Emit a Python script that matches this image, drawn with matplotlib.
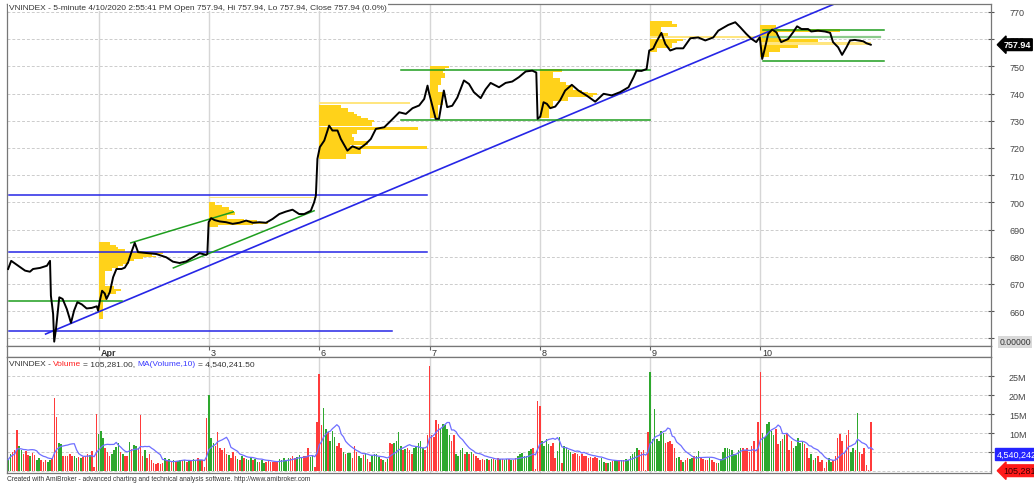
import matplotlib
matplotlib.use('Agg')
import matplotlib.pyplot as plt
import numpy as np
import pandas as pd

plt.rcParams['font.family'] = ['Liberation Sans', 'DejaVu Sans']

# ---------------- data ----------------
day_labels = ['Apr', '3', '6', '7', '8', '9', '10']

# volume per 5-minute bar (millions), one list per session (Mar 31 partial ... Apr 10)
vol_mar31 = [3.0, 4.5, 5.0, 5.5, 10.9, 6.5, 5.5, 4.5, 5.4, 4.3,
             4.0, 4.8, 4.2, 3.0, 3.5, 2.8, 2.5, 3.0, 2.5, 2.9,
             3.5, 19.2, 14.1, 7.5, 7.0, 3.9, 3.9, 4.0, 4.5, 4.0,
             3.9, 3.5, 3.8, 3.5, 3.8, 4.0, 4.5, 4.3, 5.4, 1.0,
             15.0]
dir_mar31 = 'ggrrrggrrr' 'grrggrrrgg' 'rrrggrrrrr' 'ggrgrrrgrr' 'r'
vol_apr1 = [9.7, 10.5, 8.8, 6.2, 5.0, 4.0, 4.5, 5.5, 6.3, 7.5,
            5.0, 4.5, 4.0, 3.9, 7.7, 5.8, 6.8, 6.5, 6.0, 14.7,
            4.0, 5.5, 3.5, 4.5, 3.0, 2.2, 1.8, 2.0, 1.8, 2.2,
            3.5, 2.8, 3.3, 2.5, 3.0, 2.5, 2.7, 3.0, 2.8, 3.0,
            2.5, 2.9, 2.6, 3.2, 3.0, 3.5, 3.0, 2.8, 1.0, 14.0]
dir_apr1 = 'gggrrrgggg' 'rgrrgrggrr' 'rgrrrrrrrr' 'grgrgrggrg' 'rgrggrgrrr'
vol_apr3 = [20.1, 8.6, 7.5, 6.5, 10.2, 6.0, 5.5, 6.0, 4.5, 4.2,
            3.5, 5.0, 4.0, 3.2, 3.0, 4.0, 3.5, 3.2, 3.0, 3.8,
            3.0, 3.2, 2.5, 2.5, 2.8, 2.2, 2.5, 2.6, 2.4, 2.5,
            2.3, 2.5, 3.3, 3.0, 3.4, 3.0, 3.5, 3.5, 4.0, 3.5,
            3.8, 4.2, 3.6, 3.9, 4.0, 6.0, 3.8, 4.0, 1.0, 12.8]
dir_apr3 = 'gggrrrrrrg' 'rrrgrgrggg' 'rggrggrrrr' 'rrgggggrrr' 'gggrrrggrr'
vol_apr6 = [25.5, 12.0, 16.5, 11.0, 10.2, 8.0, 10.5, 9.0, 6.5, 7.5,
            6.0, 5.0, 4.5, 4.8, 4.8, 3.5, 6.5, 5.0, 4.0, 3.5,
            4.3, 4.8, 3.2, 2.5, 4.0, 4.5, 4.5, 3.8, 3.2, 3.0,
            2.5, 3.2, 7.5, 7.0, 7.5, 8.0, 10.2, 6.5, 5.5, 5.8,
            6.0, 5.5, 4.5, 6.0, 6.5, 7.5, 7.8, 6.0, 5.5, 9.5]
dir_apr6 = 'rrggrgggrr' 'rgrggrrrgg' 'rgrrggggrg' 'rgrrggggrg' 'rrrgggggrr'
vol_apr7 = [27.6, 9.5, 9.0, 13.4, 12.4, 11.0, 12.4, 12.0, 11.0, 9.5,
            8.0, 9.5, 4.5, 4.0, 5.5, 6.0, 4.5, 5.0, 4.5, 5.0,
            4.5, 4.0, 3.5, 3.0, 3.2, 2.8, 3.2, 3.0, 3.3, 3.2,
            3.0, 3.5, 3.2, 3.2, 3.0, 3.3, 3.2, 3.0, 3.0, 3.5,
            4.0, 4.4, 4.8, 4.0, 4.0, 5.4, 5.8, 6.2, 0.5, 18.3]
dir_apr7 = 'rrrrrggggg' 'rrggggrgrg' 'rrrrrrgrgr' 'grgrggrgrr' 'gggggggrrr'
vol_apr8 = [17.0, 8.0, 6.7, 8.4, 7.0, 6.5, 7.5, 3.5, 5.2, 8.9,
            2.0, 6.5, 6.0, 5.5, 5.0, 4.5, 4.8, 4.5, 4.0, 4.5,
            4.0, 4.0, 3.5, 3.8, 3.5, 3.6, 3.5, 3.0, 3.5, 2.5,
            2.0, 2.0, 2.5, 2.7, 3.0, 3.0, 3.0, 3.0, 3.0, 3.2,
            3.0, 4.0, 4.5, 5.0, 6.0, 5.5, 5.0, 5.5, 0.3, 10.3]
dir_apr8 = 'rggggrrrgg' 'rggggrrrrr' 'rrrrrrrggg' 'rggrggrgrg' 'gggggrrrrr'
vol_apr9 = [26.1, 8.4, 16.3, 8.5, 8.0, 10.6, 10.0, 7.4, 7.7, 7.8,
            7.2, 6.0, 3.5, 3.8, 3.0, 2.5, 3.0, 3.5, 3.2, 3.5,
            4.0, 4.0, 5.4, 3.5, 3.3, 3.0, 3.0, 3.5, 3.0, 2.5,
            2.0, 2.0, 3.3, 5.0, 6.1, 6.0, 5.8, 5.5, 4.5, 4.3,
            5.5, 6.0, 6.0, 5.5, 6.0, 5.0, 6.5, 7.8, 0.4, 12.8]
dir_apr9 = 'gggggggrrr' 'rrggrgrrgg' 'rggrrrrgrr' 'rggggggggg' 'ggrrrrrrrr'
vol_apr10 = [26.0, 10.0, 9.0, 12.4, 13.0, 10.5, 9.5, 11.0, 7.0, 8.0,
             8.5, 9.5, 10.0, 5.5, 8.0, 6.0, 6.5, 8.8, 7.5, 8.0,
             7.0, 6.0, 3.5, 4.5, 3.0, 3.5, 4.0, 2.5, 3.0, 0.8,
             2.5, 3.5, 2.5, 2.8, 4.0, 8.6, 9.7, 8.0, 5.0, 9.5,
             10.9, 5.0, 6.0, 5.5, 15.3, 5.0, 4.5, 6.0, 1.5, 0.3,
             12.8, 0.1]
dir_apr10 = 'rggggggrrg' 'rgrrrggggg' 'rrrgrgrrrr' 'rggrrrrrrr' 'rggrgrrrrr' 'rr'

vol_days = [vol_mar31, vol_apr1, vol_apr3, vol_apr6, vol_apr7, vol_apr8, vol_apr9, vol_apr10]
dir_days = [dir_mar31, dir_apr1, dir_apr3, dir_apr6, dir_apr7, dir_apr8, dir_apr9, dir_apr10]

# close price path (bar index, price)
price_bar = [0.0, 1.4, 5.4, 7.7, 9.9, 11.3, 14.5, 17.6, 19.0, 19.4, 20.4, 20.9, 21.7, 23.2, 24.7,
             26.6, 28.5, 29.9, 31.4, 33.4, 35.6, 37.9, 40.2, 40.8,
             41.6, 42.6, 43.8, 44.6, 46.1, 47.6, 49.1, 51.4, 52.9, 54.4, 55.9, 57.4, 58.9, 61.2,
             67.2, 71.7, 74.7, 77.7, 80.8, 83.8, 86.8, 89.8, 90.3,
             90.9, 92.0, 93.5, 95.8, 98.8, 101.8, 104.8, 107.9, 110.9, 113.9, 116.9, 119.9, 122.9,
             125.9, 128.9, 131.9, 134.2, 137.2, 138.7, 139.5,
             140.2, 141.3, 143.3, 145.5, 147.0, 149.3, 150.8, 153.8, 156.1, 159.1, 162.2, 164.4,
             166.7, 170.5, 173.5, 177.3, 180.3, 183.3, 186.3, 188.6, 190.1,
             190.7, 193.8, 195.3, 197.5, 199.0, 201.3, 203.6, 206.6, 208.9, 211.1, 214.2, 216.4,
             218.7, 222.5, 225.5, 228.5, 231.5, 234.6, 237.6, 239.4,
             240.0, 241.2, 242.7, 244.2, 245.7, 248.0, 250.2, 252.5, 255.5, 258.5, 262.3, 266.1,
             269.9, 273.6, 277.4, 281.2, 283.5, 284.8, 287.1, 289.4,
             290.6, 292.4, 293.8, 296.1, 297.9, 300.1, 302.8, 306.0, 309.2, 312.8, 316.0, 319.6,
             321.9, 326.4, 329.6, 331.9, 334.6, 336.9, 339.1,
             340.7, 341.8, 343.0, 344.5, 346.3, 348.2, 350.4, 353.5, 355.8, 357.6, 359.6, 362.6,
             364.0, 367.1, 370.2, 372.6, 373.9, 376.2, 378.0, 380.0, 381.6, 383.8, 387.6, 389.0, 391.0]
price_close = [675.5, 678.5, 676.2, 674.9, 674.5, 675.5, 675.9, 676.7, 678.5, 665.7, 659.0, 648.8, 653.5, 665.1, 664.5,
               660.8, 655.7, 660.2, 663.3, 662.5, 661.0, 661.2, 661.8, 660.2,
               663.9, 667.5, 666.5, 664.5, 667.0, 672.5, 675.5, 675.5, 676.0, 678.0, 681.7, 685.1, 681.7, 681.5,
               681.0, 679.8, 678.2, 677.7, 678.3, 679.8, 681.3, 680.7, 681.0,
               692.7, 694.2, 693.5, 693.0, 692.7, 692.1, 692.5, 693.3, 692.5, 692.7, 692.5, 693.9, 695.7,
               696.6, 697.3, 695.7, 695.7, 696.9, 700.0, 702.5,
               716.0, 720.3, 722.7, 728.2, 726.4, 726.4, 723.3, 719.0, 720.6, 719.6, 721.5, 723.3,
               727.0, 727.6, 730.0, 733.1, 732.5, 734.6, 735.6, 738.0, 742.9,
               740.5, 730.7, 730.7, 741.1, 735.0, 735.5, 738.5, 744.8, 743.5, 740.5, 738.3, 741.5,
               743.9, 742.3, 743.9, 744.4, 746.0, 748.1, 748.4, 747.7,
               730.7, 731.5, 736.8, 736.2, 734.6, 735.2, 737.5, 741.1, 743.2, 741.1, 739.2, 737.0,
               739.9, 739.3, 740.5, 742.3, 746.0, 748.4, 748.3, 749.0,
               755.8, 756.5, 758.9, 762.3, 758.2, 755.8, 756.6, 756.6, 760.3, 760.6, 759.5, 760.6,
               763.1, 765.2, 766.2, 764.3, 761.9, 760.1, 758.9,
               760.7, 752.7, 756.5, 761.9, 763.5, 762.5, 758.9, 760.0, 762.5, 764.7, 763.7, 763.7,
               762.8, 763.1, 762.8, 762.3, 758.9, 757.0, 754.2, 757.0, 759.5, 759.7, 759.2, 758.5, 757.94]

# volume-at-price profiles per session: (price low, price high, length in bars)
profile_apr1 = [(684.5, 685.3, 5), (683.6, 684.5, 8), (682.7, 683.6, 9), (681.8, 682.7, 12),
                (681.1, 681.8, 29), (680.4, 681.1, 24), (679.8, 680.4, 26), (679.2, 679.8, 20),
                (678.6, 679.2, 16), (678.0, 678.6, 13), (677.3, 678.0, 14), (676.7, 677.3, 11),
                (675.8, 676.7, 9), (674.9, 675.8, 6), (669.4, 674.9, 3), (668.2, 669.4, 7),
                (667.3, 668.2, 10), (666.4, 667.3, 8), (664.0, 666.4, 4), (657.3, 664.0, 2)]
profile_apr3 = [(701.5, 702.1, 49), (699.2, 700.0, 3), (698.3, 699.2, 6), (697.3, 698.3, 9),
                (696.4, 697.3, 11), (695.2, 696.4, 12), (694.0, 695.2, 8), (693.4, 694.0, 16),
                (692.8, 693.4, 22), (692.1, 692.8, 27), (691.5, 692.1, 20), (690.9, 691.5, 4)]
profile_apr6 = [(736.2, 737.0, 41), (734.8, 735.6, 10), (734.1, 734.8, 13), (733.3, 734.1, 13),
                (732.5, 733.3, 16), (731.7, 732.5, 17), (730.9, 731.7, 19), (730.1, 730.9, 22),
                (729.4, 730.1, 25), (728.2, 729.4, 24), (726.6, 727.8, 45), (725.3, 726.6, 17),
                (724.0, 725.3, 15), (722.7, 724.0, 16), (721.2, 722.7, 22), (720.7, 721.2, 14),
                (719.5, 720.7, 49), (717.7, 719.5, 19), (716.0, 717.7, 12)]
profile_apr7 = [(749.3, 750.0, 9), (748.4, 749.3, 7), (747.5, 748.4, 6), (745.6, 747.5, 7),
                (743.1, 745.6, 5), (740.7, 743.1, 4), (735.8, 740.7, 6), (730.9, 735.8, 4)]
profile_apr8 = [(748.0, 749.0, 10), (745.6, 748.0, 6), (744.4, 745.6, 9), (743.2, 744.4, 12),
                (741.3, 743.2, 15), (740.7, 741.3, 19), (740.1, 740.7, 22), (739.5, 740.1, 26),
                (738.9, 739.5, 24), (737.1, 738.9, 13), (734.6, 737.1, 6), (730.9, 734.6, 4)]
profile_apr9 = [(765.6, 766.8, 10), (764.5, 765.6, 12), (762.4, 764.5, 5), (761.2, 762.4, 8),
                (760.3, 761.2, 49), (759.3, 760.2, 15), (758.4, 759.3, 12), (756.6, 758.4, 10),
                (755.3, 756.6, 3)]
profile_apr10 = [(763.8, 765.0, 7), (762.6, 763.8, 36), (760.2, 762.6, 8), (758.9, 760.2, 26),
                 (758.0, 758.9, 50), (756.6, 758.0, 17), (755.3, 756.6, 9), (753.5, 755.3, 4)]
profiles = [profile_apr1, profile_apr3, profile_apr6, profile_apr7, profile_apr8, profile_apr9, profile_apr10]

# drawn study lines: ((bar0, price0), (bar1, price1))
blue_lines = [((0.4, 652.6), (174.0, 652.6)),
              ((0.4, 681.7), (189.9, 681.7)),
              ((0.4, 702.7), (189.9, 702.7))]
blue_trend = ((17.0, 651.6), (374.8, 773.0))
green_lines = [((0.4, 663.6), (51.6, 663.6)),
               ((55.6, 685.1), (102.1, 696.5)),
               ((74.9, 675.9), (138.7, 696.9)),
               ((178.1, 748.8), (291.0, 748.8)),
               ((178.1, 730.4), (291.0, 730.4)),
               ((342.2, 763.5), (397.1, 763.5)),
               ((342.2, 751.9), (397.1, 751.9))]
light_green_lines = [((342.2, 760.9), (395.2, 760.9))]

price_ticks = [650, 660, 670, 680, 690, 700, 710, 720, 730, 740, 750, 760, 770]
vol_ticks = [5, 10, 15, 20, 25]
last_close = 757.94
last_volume = 105281.00
last_ma = 4540241.50

# ---------------- figure ----------------
W, H = 1034, 485
fig = plt.figure(figsize=(W / 100, H / 100), dpi=100)
fig.patch.set_facecolor('white')


def px_axes(x0, y0, x1, y1):
    return fig.add_axes([x0 / W, 1 - y1 / H, (x1 - x0) / W, (y1 - y0) / H])


ax = px_axes(7, 5, 991, 347)
axd = px_axes(7, 347, 991, 358)
axv = px_axes(7, 358, 991, 474)

volume = np.concatenate([np.array(v, float) for v in vol_days])
dirs = ''.join(dir_days)
nbar = len(volume)
bars = np.arange(nbar)
day_starts = np.cumsum([len(v) for v in vol_days])[:-1]

XL = (-0.5, 445.5)
spine_col = '#777777'
grid_col = '#cccccc'
tick_col = '#555555'

# ---- price panel ----
ax.set_xlim(*XL)
ax.set_ylim(647.2, 772.9)
ax.set_yticks(price_ticks)
ax.set_yticklabels(['' if t == 650 else str(t) for t in price_ticks])
ax.yaxis.tick_right()
ax.tick_params(axis='y', direction='inout', length=4, width=0.8, colors=tick_col,
               labelsize=6.5, pad=11, labelcolor='#444444')
ax.set_xticks([])
for t in price_ticks:
    ax.axhline(t, color=grid_col, lw=0.7, ls=(0, (3, 2)), zorder=0)
for d in day_starts:
    ax.axvline(d, color='#d6d6d6', lw=1.0, zorder=0)

for d, prof in zip(day_starts, profiles):
    for lo, hi, w in prof:
        col = '#FFE680' if hi - lo < 1.0 and w > 30 else '#FFD21A'
        ax.barh(lo, w, height=hi - lo, left=d, align='edge', color=col, lw=0, zorder=1)

for (x0, y0), (x1, y1) in blue_lines:
    ax.plot([x0, x1], [y0, y1], color='#2626E6', lw=1.1, zorder=2)
(tx0, ty0), (tx1, ty1) = blue_trend
ax.plot([tx0, tx1], [ty0, ty1], color='#2626E6', lw=1.2, zorder=2, clip_on=True)
for (x0, y0), (x1, y1) in green_lines:
    ax.plot([x0, x1], [y0, y1], color='#1E9E1E', lw=1.1, zorder=2)
for (x0, y0), (x1, y1) in light_green_lines:
    ax.plot([x0, x1], [y0, y1], color='#8CCB8C', lw=1.6, zorder=2)

ax.plot(price_bar, price_close, color='black', lw=1.4, zorder=4, solid_joinstyle='round')

for s in ax.spines.values():
    s.set_color(spine_col)
    s.set_linewidth(0.9)

# ---- date strip ----
axd.set_xlim(*XL)
axd.set_ylim(0, 1)
axd.set_yticks([])
axd.set_xticks(day_starts)
axd.tick_params(axis='x', top=True, bottom=False, direction='in', length=3, width=0.8,
                color='#666666', labeltop=False, labelbottom=False)
for d, lab in zip(day_starts, day_labels):
    axd.text(d + 0.8, 0.45, lab, fontsize=6.5, va='center', ha='left', color='#333333',
             fontweight='bold' if lab == 'Apr' else 'normal')
for s in axd.spines.values():
    s.set_color(spine_col)
    s.set_linewidth(0.9)

# ---- volume panel ----
axv.set_xlim(*XL)
axv.set_ylim(-0.5, 30)
colors = ['#2EA82E' if c == 'g' else '#FF3B3B' for c in dirs]
axv.bar(bars, volume, width=0.7, color=colors, lw=0, zorder=2)
ma = pd.Series(volume).rolling(10, min_periods=1).mean()
axv.plot(bars, ma, color='#6F6FFF', lw=0.9, zorder=3)
axv.set_yticks(vol_ticks)
axv.set_yticklabels(['' if t == 5 else f'{t}M' for t in vol_ticks])
axv.yaxis.tick_right()
axv.tick_params(axis='y', direction='inout', length=4, width=0.8, colors=tick_col,
                labelsize=6.5, pad=11, labelcolor='#444444')
axv.set_xticks([])
for t in vol_ticks:
    axv.axhline(t, color=grid_col, lw=0.7, ls=(0, (3, 2)), zorder=0)
axv.axhline(0, color=grid_col, lw=0.7, ls=(0, (3, 2)), zorder=0)
for d in day_starts:
    axv.axvline(d, color='#d6d6d6', lw=1.0, zorder=0)
for s in axv.spines.values():
    s.set_color(spine_col)
    s.set_linewidth(0.9)

# ---- texts ----
fig.text(9 / W, 1 - 8 / H,
         'VNINDEX - 5-minute 4/10/2020 2:55:41 PM Open 757.94, Hi 757.94, Lo 757.94, Close 757.94 (0.0%)',
         fontsize=6, color='#333333', va='center', ha='left',
         bbox=dict(facecolor='white', edgecolor='none', pad=0.6))

# volume title built from coloured pieces; (text, colour, gap before in points)
parts = [('VNINDEX -', '#333333', 0), ('Volume', '#FF2020', 1.6),
         (f'= {last_volume:,.2f},', '#333333', 1.6), ('MA(Volume,10)', '#3A3AFF', 1.6),
         (f'= {last_ma:,.2f}', '#333333', 1.6)]
t = fig.text(9 / W, 1 - 368 / H, parts[0][0], fontsize=6, color=parts[0][1], va='bottom', ha='left')
for s, c, gap in parts[1:]:
    t = axv.annotate(s, xy=(1, 0), xycoords=t, xytext=(gap, 0), textcoords='offset points',
                     va='bottom', ha='left', fontsize=6, color=c, annotation_clip=False)

fig.text(7 / W, 1 - 480 / H,
         'Created with AmiBroker - advanced charting and technical analysis software. http://www.amibroker.com',
         fontsize=4.8, color='#333333', va='center', ha='left')

# right-axis value labels
ax.annotate(f'{last_close:.2f}', xy=(1.0, last_close), xycoords=('axes fraction', 'data'),
            xytext=(9, 0), textcoords='offset points', fontsize=6.5, color='white',
            fontweight='bold', va='center', ha='left', annotation_clip=False,
            bbox=dict(boxstyle='larrow,pad=0.15', facecolor='black', edgecolor='black'))
ax.annotate('0.00000', xy=(1.0, 648.7), xycoords=('axes fraction', 'data'),
            xytext=(6, 0), textcoords='offset points', fontsize=6.2, color='#333333',
            va='center', ha='left', annotation_clip=False,
            bbox=dict(boxstyle='square,pad=0.15', facecolor='#d9d9d9', edgecolor='none'))
axv.annotate(f'{last_ma:,.0f}', xy=(1.0, last_ma / 1e6), xycoords=('axes fraction', 'data'),
             xytext=(4, 0), textcoords='offset points', fontsize=6.5, color='white',
             va='center', ha='left', annotation_clip=False,
             bbox=dict(boxstyle='square,pad=0.15', facecolor='#2424FF', edgecolor='#2424FF'))
axv.annotate(f'{last_volume:,.0f}', xy=(1.0, last_volume / 1e6), xycoords=('axes fraction', 'data'),
             xytext=(9, 0), textcoords='offset points', fontsize=6.5, color='#3a0000',
             va='center', ha='left', annotation_clip=False,
             bbox=dict(boxstyle='larrow,pad=0.15', facecolor='#FF1A1A', edgecolor='#FF1A1A'))

fig.savefig('out.png', dpi=100)
